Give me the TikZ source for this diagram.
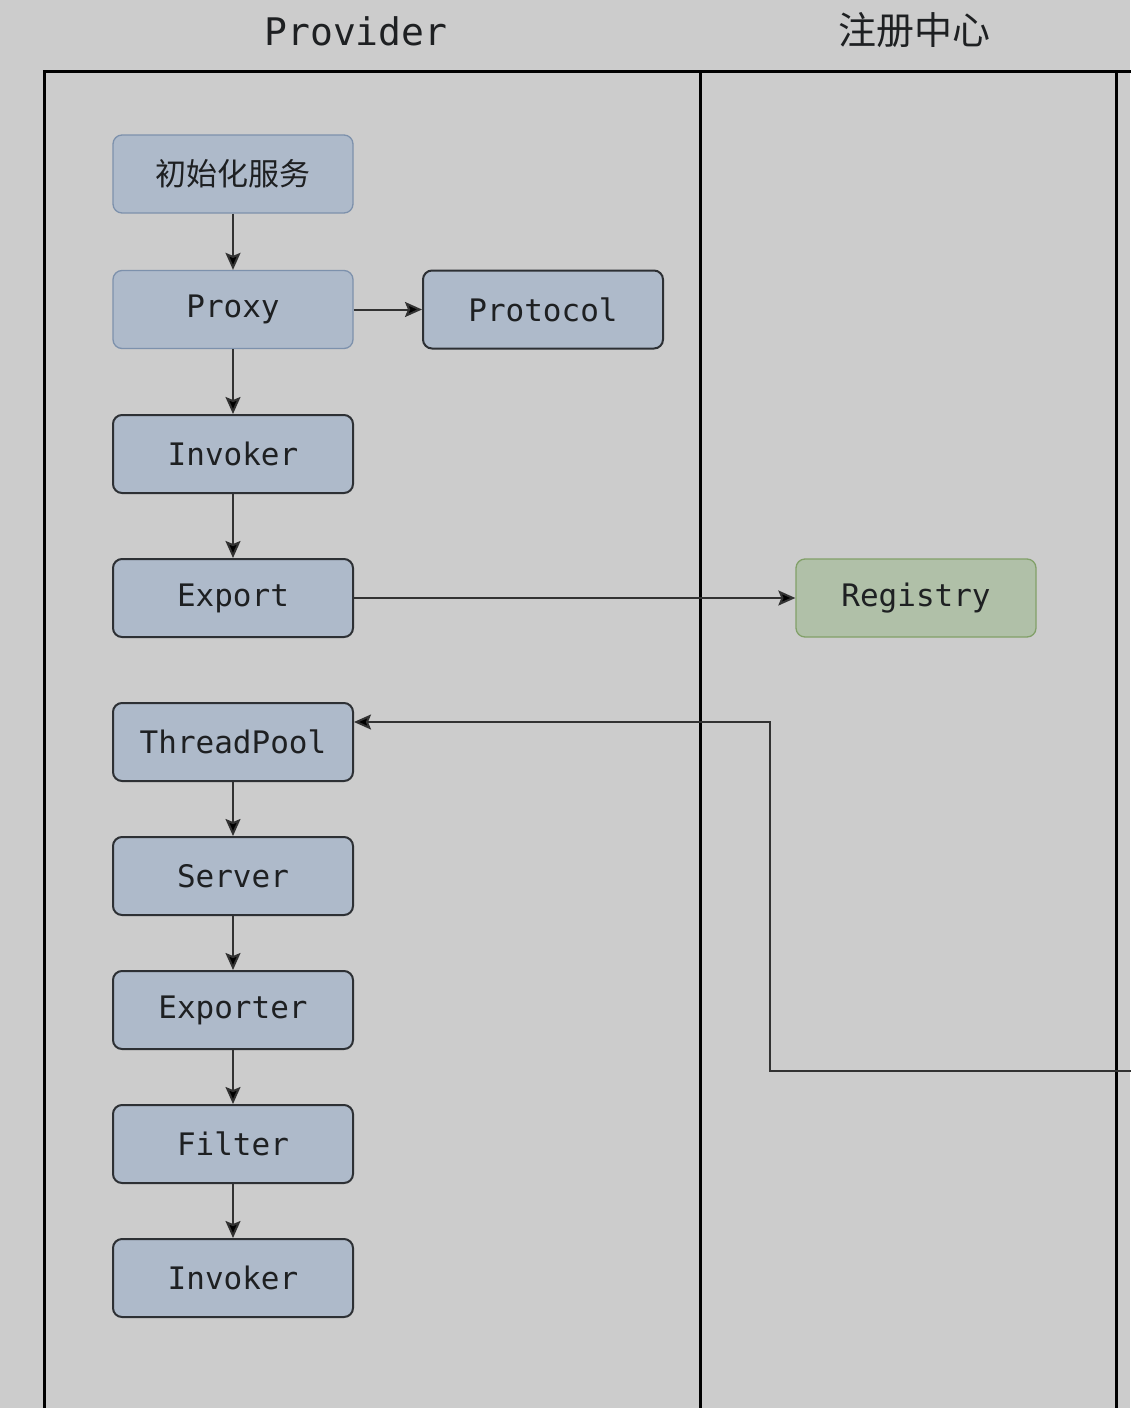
\documentclass[tikz,border=0pt]{standalone}
\usepackage{fontspec}
\setmonofont{DejaVu Sans Mono}
\newfontfamily\cjk{Noto Sans CJK SC}
\usetikzlibrary{arrows.meta}
\definecolor{bg}{RGB}{204,204,204}
\definecolor{boxfill}{RGB}{174,186,202}
\definecolor{boxedgelight}{RGB}{125,145,172}
\definecolor{boxedge}{RGB}{45,48,52}
\definecolor{regfill}{RGB}{176,192,168}
\definecolor{regedge}{RGB}{130,160,105}
\definecolor{txt}{RGB}{30,32,34}
\definecolor{wire}{RGB}{50,50,50}
\begin{document}
\begin{tikzpicture}[x=1pt,y=-1pt,
  stepbox/.style={draw=boxedge,line width=2pt,fill=boxfill,rounded corners=9pt,
    minimum width=240pt,minimum height=78pt,inner sep=0pt,
    font=\ttfamily\fontsize{31}{32}\selectfont,text=txt},
  lightbox/.style={stepbox,draw=boxedgelight,line width=1.3pt},
  regbox/.style={stepbox,draw=regedge,line width=1.3pt,fill=regfill},
  lane/.style={line width=3pt,black},
  conn/.style={line width=2pt,draw=wire,-{Stealth[length=17pt,width=15pt,inset=3pt,fill=black]}},
  hdr/.style={font=\ttfamily\fontsize{38}{40}\selectfont,text=txt}]
\fill[bg] (0,0) rectangle (1130,1408);
\useasboundingbox (0,0) rectangle (1130,1408);
% lanes
\draw[lane] (44,1410) -- (44,71) -- (1132,71);
\draw[lane] (700,71) -- (700,1410);
\draw[lane] (1116,71) -- (1116,1410);
\node[hdr] (hprov) at (356,31) {Provider};
\node[hdr,font=\cjk\fontsize{38}{40}\selectfont] (hreg) at (914,30) {注册中心};
% nodes
\node[lightbox,font=\cjk\fontsize{31}{32}\selectfont] (init) at (233,174) {初始化服务};
\node[lightbox] (proxy) at (233,309.5) {Proxy};
\node[stepbox] (protocol) at (543,309.5) {Protocol};
\node[stepbox] (invoker1) at (233,454) {Invoker};
\node[stepbox] (export) at (233,598) {Export};
\node[regbox] (registry) at (916,598) {Registry};
\node[stepbox] (threadpool) at (233,742) {ThreadPool};
\node[stepbox] (server) at (233,876) {Server};
\node[stepbox] (exporter) at (233,1010) {Exporter};
\node[stepbox] (filter) at (233,1144) {Filter};
\node[stepbox] (invoker2) at (233,1278) {Invoker};
% connectors
\draw[conn] (init) -- (proxy);
\draw[conn] (proxy) -- (protocol);
\draw[conn] (proxy) -- (invoker1);
\draw[conn] (invoker1) -- (export);
\draw[conn] (export) -- (registry);
\draw[conn] (threadpool) -- (server);
\draw[conn] (server) -- (exporter);
\draw[conn] (exporter) -- (filter);
\draw[conn] (filter) -- (invoker2);
\coordinate (offright) at (1134,1071);
\coordinate (tpin) at ([yshift=20pt]threadpool.east);
\draw[conn] (offright) -- (770,1071) -- (770,722) -- (tpin);
\end{tikzpicture}
\end{document}
